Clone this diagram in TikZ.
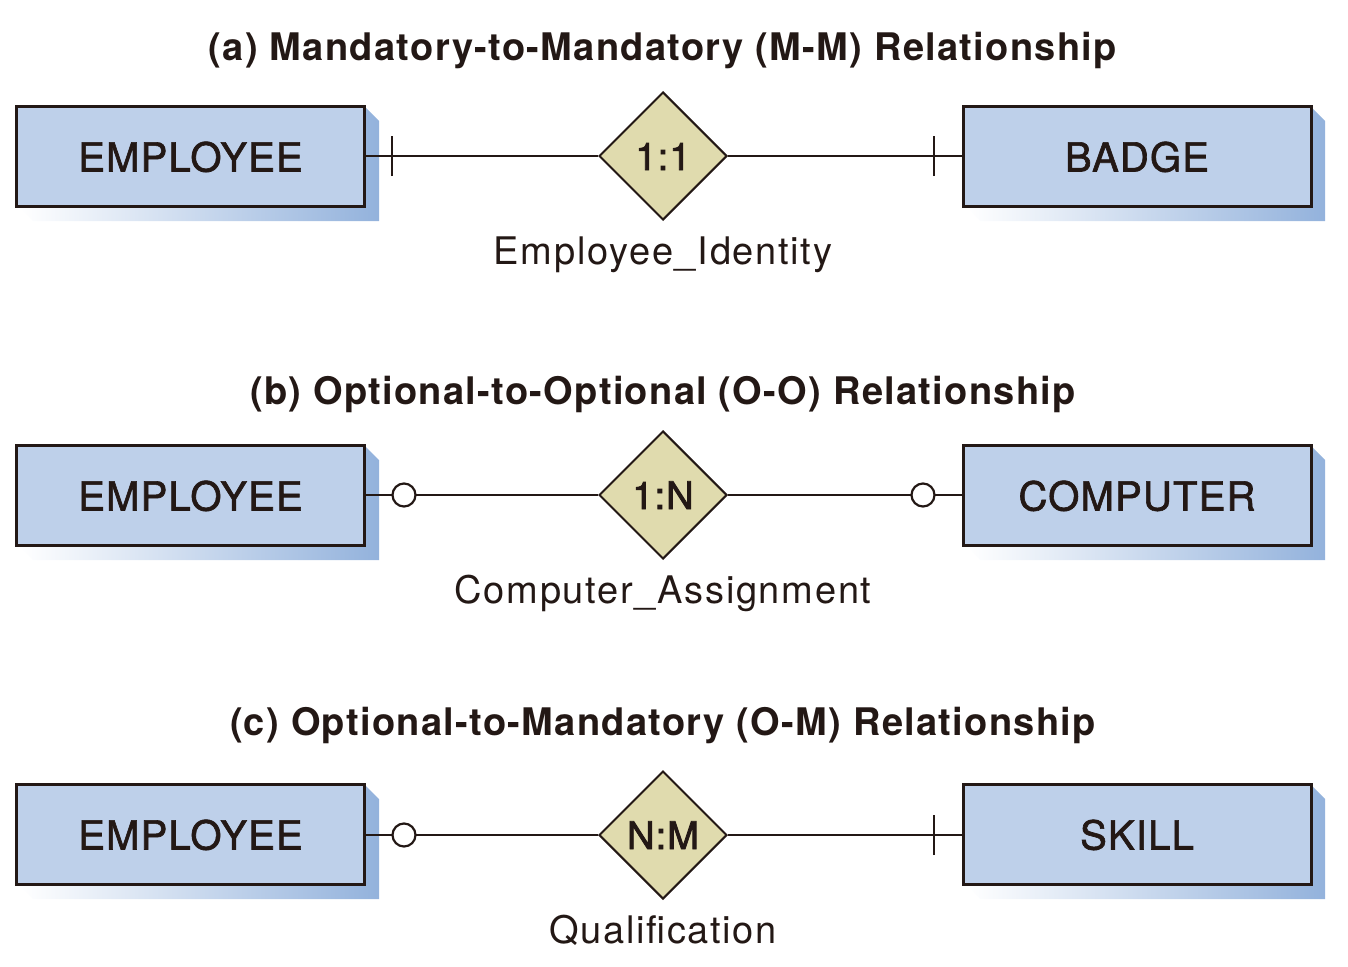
\documentclass[tikz,border=0pt]{standalone}
\usepackage{fontspec}
\setmainfont{TeX Gyre Heros}
\newfontfamily\titlefont[LetterSpace=3.5]{TeX Gyre Heros Bold}
\newfontfamily\entfont[LetterSpace=3,FakeBold=1.6]{TeX Gyre Heros}
\newfontfamily\relfont[LetterSpace=3,FakeBold=2.2]{TeX Gyre Heros}
\newfontfamily\labfont[LetterSpace=4.5]{TeX Gyre Heros}
\usetikzlibrary{shapes.geometric}
\definecolor{ink}{HTML}{231815}
\definecolor{boxfill}{HTML}{BED0EA}
\definecolor{shade}{HTML}{93B2DC}
\definecolor{relfill}{HTML}{E0DBAE}
\tikzset{
  x=1pt, y=-1pt,
  entity/.style={draw=ink, line width=3pt, fill=boxfill, minimum width=348pt, minimum height=100pt, inner sep=0pt},
  rel/.style={diamond, draw=ink, line width=2pt, fill=relfill, minimum width=128pt, minimum height=128pt, inner sep=0pt, aspect=1},
  conn/.style={draw=ink, line width=2.4pt},
  titletext/.style={anchor=base, text=ink, inner sep=0pt, font=\titlefont\fontsize{38}{42}\selectfont},
  enttext/.style={anchor=base, text=ink, inner sep=0pt, font=\entfont\fontsize{40}{44}\selectfont},
  reltext/.style={anchor=base, text=ink, inner sep=0pt, font=\relfont\fontsize{38}{42}\selectfont},
  labeltext/.style={anchor=base, text=ink, inner sep=0pt, font=\labfont\fontsize{38}{42}\selectfont},
  optmark/.style={circle, draw=ink, line width=2.2pt, fill=white, minimum size=23pt, inner sep=0pt},
  barmark/.style={draw=ink, line width=2.4pt},
}
\newcommand{\entshadow}[4]{% x1 y1 x2 y2 of box
  \shade[left color=white, right color=shade]
    (#1+5,#4) -- (#3,#4) -- (#3,#2+3) -- (#3+13,#2+16) -- (#3+13,#4+13) -- (#1+18,#4+13) -- cycle;
}
\begin{document}
\begin{tikzpicture}
\useasboundingbox (0,0) rectangle (1348,966);
% ---------- (a)
\node[titletext] (ta) at (663,60) {(a) Mandatory-to-Mandatory (M-M) Relationship};
\entshadow{15}{105}{366}{208}
\entshadow{962}{105}{1312}{208}
\node[entity] (ea) at (190.5,156.5) {};
\node[entity] (ba) at (1137,156.5) {};
\node[rel] (ra) at (663,156) {};
\draw[conn] (ea.east |- ra) -- (ra.west);
\draw[conn] (ra.east) -- (ba.west |- ra);
\coordinate (ba1) at (392,156);
\coordinate (ba2) at (934,156);
\draw[barmark] ([yshift=-20pt]ba1) -- ([yshift=20pt]ba1);
\draw[barmark] ([yshift=-20pt]ba2) -- ([yshift=20pt]ba2);
\node[enttext] (ea-t) at (190.5,171.5) {EMPLOYEE};
\node[enttext] (ba-t) at (1137,171.5) {BADGE};
\node[reltext] (ra-t) at (663,170) {1:1};
\node[labeltext] (la) at (663,264) {Employee\_Identity};
% ---------- (b)
\node[titletext] (tb) at (663,404) {(b) Optional-to-Optional (O-O) Relationship};
\entshadow{15}{444}{366}{547}
\entshadow{962}{444}{1312}{547}
\node[entity] (eb) at (190.5,495.5) {};
\node[entity] (cb) at (1137,495.5) {};
\node[rel] (rb) at (663,495) {};
\draw[conn] (eb.east |- rb) -- (rb.west);
\draw[conn] (rb.east) -- (cb.west |- rb);
\node[optmark] (ob1) at (404,495) {};
\node[optmark] (ob2) at (923,495) {};
\node[enttext] (eb-t) at (190.5,510.5) {EMPLOYEE};
\node[enttext] (cb-t) at (1137,510.5) {COMPUTER};
\node[reltext] (rb-t) at (663,509) {1:N};
\node[labeltext] (lb) at (663,603) {Computer\_Assignment};
% ---------- (c)
\node[titletext] (tc) at (663,735) {(c) Optional-to-Mandatory (O-M) Relationship};
\entshadow{15}{783}{366}{886}
\entshadow{962}{783}{1312}{886}
\node[entity] (ec) at (190.5,834.5) {};
\node[entity] (sc) at (1137,834.5) {};
\node[rel] (rc) at (663,835) {};
\draw[conn] (ec.east |- rc) -- (rc.west);
\draw[conn] (rc.east) -- (sc.west |- rc);
\node[optmark] (oc1) at (404,835) {};
\coordinate (bc2) at (934,835);
\draw[barmark] ([yshift=-20pt]bc2) -- ([yshift=20pt]bc2);
\node[enttext] (ec-t) at (190.5,849.5) {EMPLOYEE};
\node[enttext] (sc-t) at (1137,849.5) {SKILL};
\node[reltext] (rc-t) at (663,849) {N:M};
\node[labeltext] (lc) at (663,943) {Qualification};
\end{tikzpicture}
\end{document}
